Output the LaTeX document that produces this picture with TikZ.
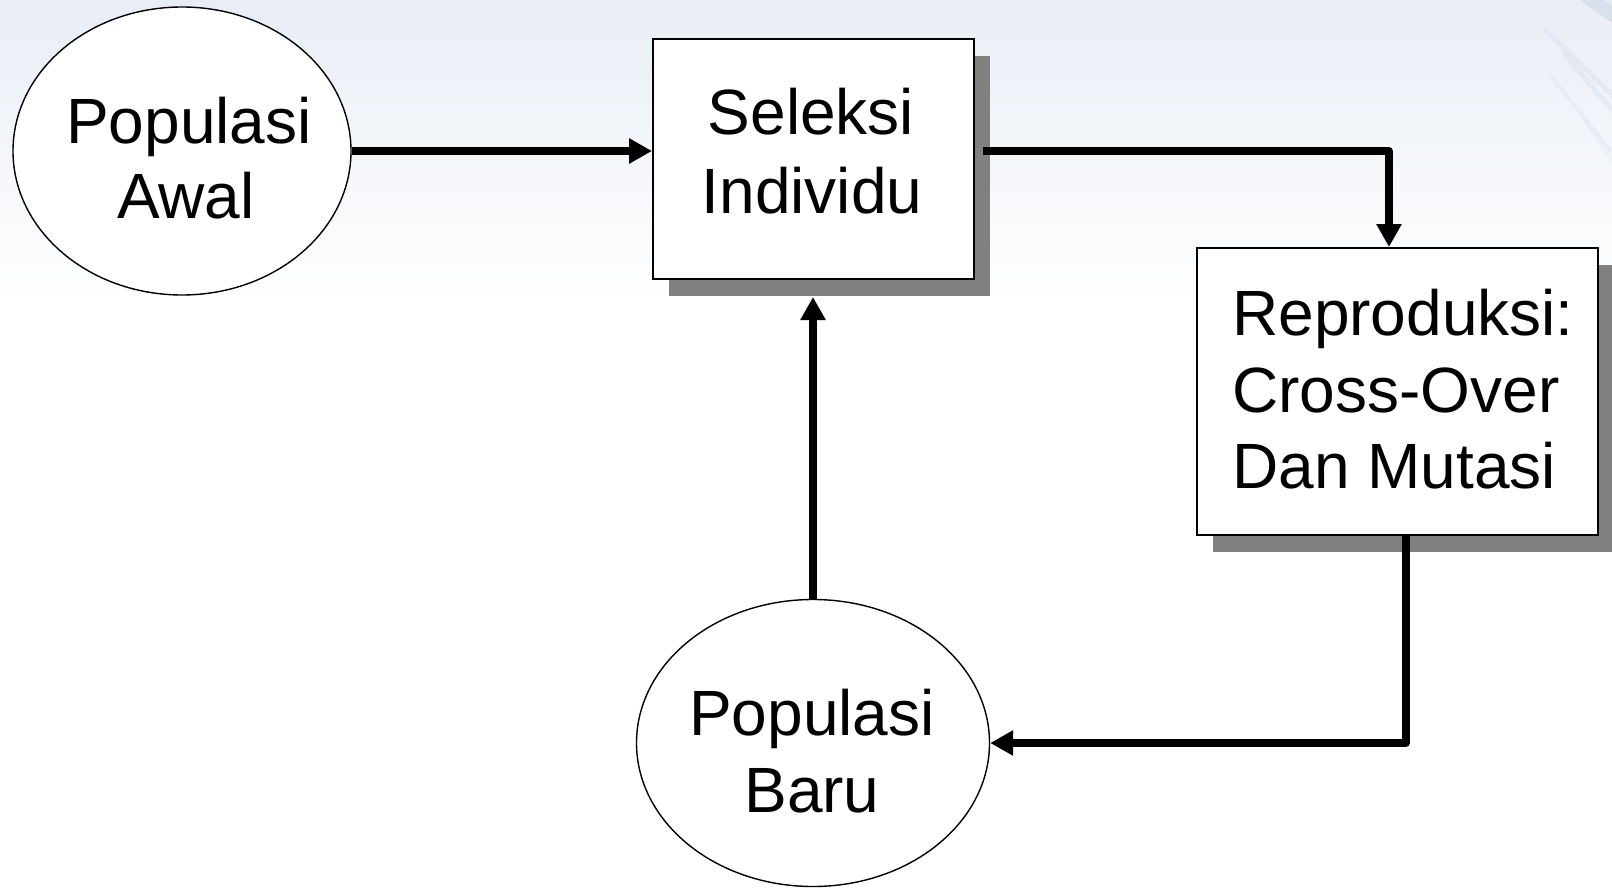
\documentclass[tikz,border=0pt]{standalone}
\usepackage{fontspec}
\setmainfont{Liberation Sans}
\usetikzlibrary{shapes.geometric,arrows.meta,shadows}
\definecolor{bgtop}{HTML}{E8EDF5}
\definecolor{streak}{HTML}{9FB1CC}
\definecolor{shadowgray}{HTML}{808080}
\begin{document}
\begin{tikzpicture}[x=1pt,y=-1pt,
  ovalnode/.style={ellipse,draw=black,line width=1.4pt,fill=white,inner sep=0pt},
  boxnode/.style={rectangle,draw=black,line width=2pt,fill=white,inner sep=0pt,
    drop shadow={shadow xshift=16pt,shadow yshift=-17pt,fill=shadowgray,opacity=1}},
  flow/.style={line width=7.5pt,line join=round,-{Triangle[length=23pt,width=24pt]}},
  txt/.style={font=\fontsize{64}{76}\selectfont,inner sep=0pt,anchor=base},
  txtl/.style={font=\fontsize{64}{76}\selectfont,inner sep=0pt,anchor=base west}]
% background
\useasboundingbox (0,0) rectangle (1612,888);
\fill[white] (0,0) rectangle (1612,888);
\shade[top color=bgtop,bottom color=white] (0,0) rectangle (1612,300);
\begin{scope}[line cap=round,opacity=0.22]
  \draw[streak,line width=14pt] (1585,-5) -- (1620,20);
  \draw[streak!60,line width=5pt] (1545,30) -- (1612,95);
  \draw[streak!60,line width=5pt] (1565,55) -- (1612,110);
  \draw[streak!50,line width=4pt] (1550,75) -- (1610,150);
  \draw[streak!40,line width=4pt] (1585,120) -- (1612,160);
\end{scope}
% shapes
\node[ovalnode,minimum width=338pt,minimum height=288pt] (pa) at (182,151) {};
\node[boxnode,minimum width=321pt,minimum height=240pt] (sel) at (813.5,159) {};
\node[boxnode,minimum width=401pt,minimum height=287pt] (rep) at (1397.5,391.5) {};
\node[ovalnode,minimum width=353pt,minimum height=287pt] (pb) at (813,743) {};
% texts
\node[txt] (pa1) at (189,143) {Populasi};
\node[txt] (pa2) at (186,218) {Awal};
\node[txt] (sel1) at (811,135) {Seleksi};
\node[txt] (sel2) at (812,213) {Individu};
\node[txtl] (rep1) at (1232,335) {Reproduksi:};
\node[txtl] (rep2) at (1232,412) {Cross-Over};
\node[txtl] (rep3) at (1232,488) {Dan Mutasi};
\node[txt] (pb1) at (812,735) {Populasi};
\node[txt] (pb2) at (812,812) {Baru};
% helper coordinates
\coordinate (selout) at ([xshift=8pt]sel.east |- pa.east);
\coordinate (repin) at ([xshift=-8.5pt]rep.north);
\coordinate (repout) at ([xshift=8.5pt]rep.south);
\coordinate (selbot) at ([yshift=-17pt]sel.south);
% connectors
\draw[flow] (pa.east) -- (pa.east -| sel.west);
\draw[flow] (selout) -| (repin);
\draw[flow] (repout) |- (pb.east);
\draw[flow] (pb.north) -- (pb.north |- selbot);
\end{tikzpicture}
\end{document}
